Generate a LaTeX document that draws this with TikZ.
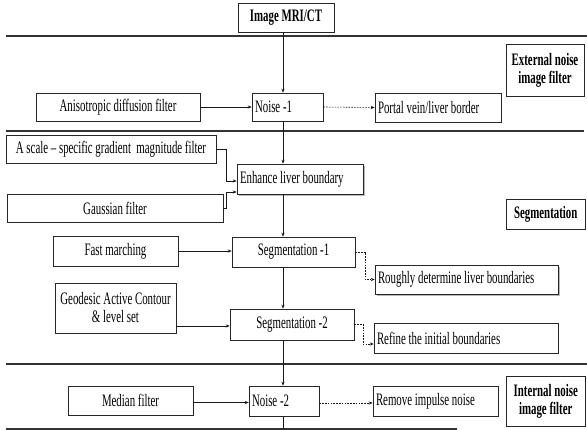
\documentclass[tikz,border=0pt]{standalone}
\usepackage{fontspec}
\setmainfont[FakeStretch=0.62]{Liberation Serif}
\usetikzlibrary{arrows.meta,shadows}
\newcommand{\dfont}{\fontsize{17.5}{18}\selectfont}
\newcommand{\lsx}[1]{\mbox{\spaceskip=0pt\xspaceskip=0pt #1}}
\tikzset{
  x=1pt, y=-1pt,
  box/.style={draw=black!85, line width=0.6pt, fill=white, inner xsep=3pt, inner ysep=0pt, font=\dfont, align=center},
  lbox/.style={box, align=left},
  lbl/.style={box, font=\dfont\bfseries},
  shbox/.style={lbox, drop shadow={shadow xshift=1.6pt, shadow yshift=-1.6pt, fill=black!45, opacity=0.6}},
  sep/.style={line width=1.8pt, draw=black!80},
  conn/.style={line width=0.6pt, draw=black!90, -{Stealth[length=4pt,width=3.2pt]}},
  dconn/.style={conn, dash pattern=on 1.6pt off 1.2pt},
  plain/.style={line width=0.6pt, draw=black!90}
}
\begin{document}
\begin{tikzpicture}
\useasboundingbox (0,0) rectangle (587,430);
% separators
\draw[sep] (6,36) -- (587,36);
\draw[sep] (6,131) -- (584,131);
\draw[sep] (6,364) -- (587,364);
\draw[sep] (6,429) -- (457,429);
% trunk coordinate
\coordinate (tr) at (283,0);
% nodes
\node[lbl, minimum width=96pt, minimum height=29pt] (img) at (286,17.5) {Image MRI/CT};
\node[box, minimum width=164pt, minimum height=28pt] (aniso) at (118,107) {Anisotropic diffusion filter};
\node[lbox, text width=65pt, minimum height=28pt] (n1) at (287.5,107) {\lsx{Noise -1}};
\node[lbox, text width=120pt, minimum height=29pt] (portal) at (438,107.5) {\lsx{Portal vein/liver border}};
\node[lbl, minimum width=78pt, minimum height=52pt] (ext) at (545,70) {External noise\\image filter};
\node[box, minimum width=210pt, minimum height=28pt] (scale) at (111,149) {A scale -- specific gradient\ \ magnitude filter};
\node[box, minimum width=216pt, minimum height=28pt] (gauss) at (115,208) {Gaussian filter};
\node[shbox, text width=120pt, minimum height=30pt] (enh) at (300,179) {\lsx{Enhance liver boundary}};
\node[box, minimum width=125pt, minimum height=30pt] (fast) at (115.5,251) {Fast marching};
\node[box, minimum width=123pt, minimum height=30pt] (seg1) at (293.5,252) {Segmentation -1};
\node[lbl, minimum width=79.5pt, minimum height=30pt] (segl) at (545.75,214) {Segmentation};
\node[shbox, text width=177pt, minimum height=29pt] (rough) at (466.5,279.5) {\lsx{Roughly determine liver boundaries}};
\node[box, minimum width=121pt, minimum height=50pt] (geo) at (115.5,308) {Geodesic Active Contour\\\&\ level set};
\node[box, minimum width=124pt, minimum height=31pt] (seg2) at (292,324.5) {Segmentation -2};
\node[lbox, text width=178pt, minimum height=30pt] (refine) at (466,338) {\lsx{Refine the initial boundaries}};
\node[box, minimum width=125pt, minimum height=29pt] (median) at (130.5,400.5) {Median filter};
\node[lbox, text width=64pt, minimum height=30pt] (n2) at (284,401) {\lsx{Noise -2}};
\node[lbox, text width=119pt, minimum height=30pt] (remove) at (435.5,401) {\lsx{Remove impulse noise}};
\node[lbl, minimum width=79.5pt, minimum height=50pt] (int) at (545.75,401) {Internal noise\\image filter};
% bends
\coordinate (b1) at (226,0);
\coordinate (b2) at (365,0);
\coordinate (b3) at (363,0);
\coordinate (bot) at (283,429);
% connectors
\draw[conn] (img.south -| tr) -- (n1.north -| tr);
\draw[conn] (aniso.east) -- (n1.west);
\draw[dconn] (n1.east) -- (portal.west);
\draw[conn] (n1.south -| tr) -- (enh.north -| tr);
\draw[conn] (scale.east) -- (scale.east -| b1) -- ([yshift=-2pt]enh.west -| b1) -- ([yshift=-2pt]enh.west);
\draw[conn] (gauss.east) -- (gauss.east -| b1) -- ([yshift=-13pt]enh.west -| b1) -- ([yshift=-13pt]enh.west);
\draw[conn] (enh.south -| tr) -- (seg1.north -| tr);
\draw[conn] (fast.east) -- (fast.east -| seg1.west);
\draw[dconn] (seg1.east) -- (seg1.east -| b2) -- (rough.west -| b2) -- (rough.west);
\draw[conn] (seg1.south -| tr) -- (seg2.north -| tr);
\draw[conn] ([yshift=-18pt]geo.east) -- ([yshift=-18pt]geo.east -| seg2.west);
\draw[dconn] (seg2.east) -- (seg2.east -| b3) -- ([yshift=-6pt]refine.west -| b3) -- ([yshift=-6pt]refine.west);
\draw[conn] (seg2.south -| tr) -- (n2.north -| tr);
\draw[conn] ([yshift=-2pt]median.east) -- ([yshift=-2pt]median.east -| n2.west);
\draw[dconn] ([yshift=-2pt]n2.east) -- ([yshift=-2pt]n2.east -| remove.west);
\draw[plain] (n2.south -| tr) -- (bot);
\end{tikzpicture}
\end{document}
